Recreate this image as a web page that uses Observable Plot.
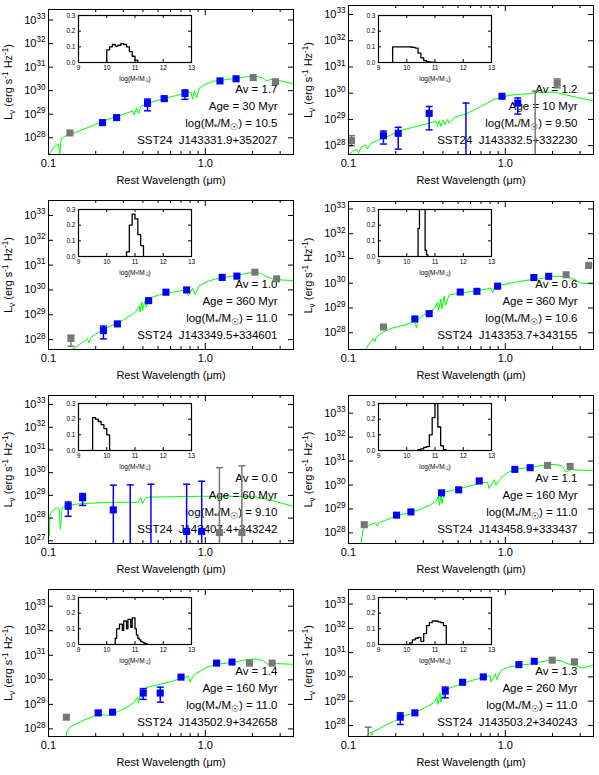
<!DOCTYPE html>
<html>
<head>
<meta charset="utf-8">
<script src="https://cdn.jsdelivr.net/npm/d3@7"></script>
<script src="https://cdn.jsdelivr.net/npm/@observablehq/plot@0.6"></script>
<style>
  html, body { margin: 0; padding: 0; background: white; }
  #fig { position: relative; width: 599px; height: 775px; background: white; overflow: hidden; }
  .cell { position: absolute; }
</style>
</head>
<body>
<div id="fig"></div>
<script>
// ---------------- DATA ----------------
const xRange = [0.1, 3.65];
const xMajorTicks = [0.1, 1];
const xMinorTicks = [0.2, 0.3, 0.4, 0.5, 0.6, 0.7, 0.8, 0.9, 2, 3];
const yDecades = [1e27, 1e28, 1e29, 1e30, 1e31, 1e32, 1e33];
const histXTicks = [9, 10, 11, 12, 13];
const histYTicks = [0, 0.1, 0.2, 0.3];
const histXRange = [9, 13];
const histYRange = [0, 0.3];

// Panel 1
const p1YRange = [1.95e27, 2.8e33];
const p1Blue = [[0.221,4.4e28],[0.272,7.2e28],[0.428,2.9e29],[0.547,4.6e29],[0.742,7.6e29],[1.24,2.6e30],[1.57,3.2e30]];
const p1BlueErr = [[0.428,1.4e29,4.4e29],[0.547,3.8e29,5.3e29],[0.742,4.3e29,1.07e30]];
const p1Gray = [[0.137,1.6e28],[2.02,3.6e30],[2.80,2.4e30]];
const p1GrayErr = [];
const p1Model = [[0.101,2.0e27],[0.1087,4.2e27],[0.1158,5.4e27],[0.118,2.0e27],[0.1205,9.3e27],[0.129,1.22e28],[0.1494,1.7e28],[0.173,2.5e28],[0.2005,3.8e28],[0.232,5.6e28],[0.269,7.8e28],[0.312,1.08e29],[0.344,1.4e29],[0.352,9.2e28],[0.3645,1.82e29],[0.375,1.07e29],[0.388,2.2e29],[0.461,3.4e29],[0.534,4.4e29],[0.618,5.7e29],[0.717,7.2e29],[0.81,8.7e29],[0.83,4.2e29],[0.851,1.0e30],[0.88,5.1e29],[0.915,1.29e30],[1.01,1.9e30],[1.11,2.5e30],[1.29,2.8e30],[1.49,3.2e30],[1.82,3.9e30],[2.11,4.1e30],[2.32,3.5e30],[2.44,2.6e30],[2.62,3.0e30],[3.12,2.5e30],[3.6,2.0e30]];
const p1HistBins = [10.0,10.1,10.2,10.3,10.4,10.5,10.6,10.7,10.8,10.9,11.0];
const p1HistFrac = [0.08,0.10,0.115,0.105,0.11,0.12,0.115,0.10,0.07,0.04,0.015];
const p1Text = ["Av = 1.7", "Age = 30 Myr", "log(M_{*}/M_{☉}) = 10.5", "SST24  J143331.9+352027"];

// Panel 2
const p2YRange = [4.6e27, 2.2e33];
const p2Blue = [[0.167,2.4e28],[0.2075,2.95e28],[0.327,1.7e29],[0.953,7.6e29],[1.2,4.2e29]];
const p2BlueErr = [[0.167,1.15e28,3.6e28],[0.2075,7.4e27,5.0e28],[0.327,4.0e28,3.1e29],[0.561,1e25,4.2e29],[1.2,1.6e29,6.6e29]];
const p2Gray = [[0.1045,1.55e28],[2.14,2.4e30]];
const p2GrayErr = [[0.1045,1.0e28,2.4e28],[1.55,1e25,1.2e30],[2.14,1.6e30,3.5e30]];
const p2Model = [[0.101,4.6e27],[0.106,6.0e27],[0.1125,7.4e27],[0.1158,5.1e27],[0.12,8.7e27],[0.129,1.07e28],[0.132,7.4e27],[0.139,1.23e28],[0.157,1.66e28],[0.182,2.4e28],[0.21,3.6e28],[0.256,5.0e28],[0.312,6.7e28],[0.361,8.5e28],[0.37,5.4e28],[0.379,9.0e28],[0.388,5.4e28],[0.402,9.5e28],[0.412,6.3e28],[0.428,1.0e29],[0.4385,7.1e28],[0.473,1.2e29],[0.561,1.6e29],[0.682,2.9e29],[0.83,5.5e29],[0.96,7.4e29],[1.11,8.5e29],[1.42,9.6e29],[1.73,1.1e30],[2.0,1.1e30],[2.32,9.3e29],[2.83,6.9e29],[3.6,5.2e29]];
const p2HistBins = [9.5,9.6,9.7,9.8,9.9,10.0,10.1,10.2,10.3,10.4,10.5,10.6,10.7,10.8,10.9];
const p2HistFrac = [0.10,0.10,0.10,0.10,0.10,0.10,0.099,0.097,0.092,0.06,0.03,0.012,0.005,0.003,0.001];
const p2Text = ["Av = 1.2", "Age = 10 Myr", "log(M_{*}/M_{☉}) = 9.50", "SST24  J143332.5+332230"];

// Panel 3
const p3YRange = [4.0e27, 4.0e33];
const p3Blue = [[0.224,2.3e28],[0.275,4.3e28],[0.435,3.7e29],[0.561,8.1e29],[0.76,1.0e30],[1.28,3.2e30],[1.59,3.6e30]];
const p3BlueErr = [[0.224,1.07e28,3.5e28]];
const p3Gray = [[0.139,1.12e28],[2.07,5.2e30],[2.85,2.8e30]];
const p3GrayErr = [[0.139,5.4e27,1.5e28]];
const p3Model = [[0.141,4.0e27],[0.157,6.2e27],[0.177,1.07e28],[0.182,7.4e27],[0.186,1.2e28],[0.2005,1.7e28],[0.232,2.9e28],[0.275,4.7e28],[0.279,3.2e28],[0.283,4.9e28],[0.312,7.2e28],[0.344,1.07e29],[0.361,1.35e29],[0.379,2.3e29],[0.383,1.26e29],[0.394,3.4e29],[0.398,1.5e29],[0.414,4.1e29],[0.42,2.0e29],[0.439,4.7e29],[0.508,6.3e29],[0.618,8.1e29],[0.753,1.0e30],[0.78,5.9e29],[0.83,1.17e30],[0.86,6.7e29],[0.915,1.5e30],[1.035,2.2e30],[1.17,2.8e30],[1.49,3.6e30],[1.82,4.6e30],[2.05,5.2e30],[2.27,4.6e30],[2.44,3.5e30],[2.69,2.8e30],[3.12,2.5e30],[3.6,2.4e30]];
const p3HistBins = [10.7,10.8,10.9,11.0,11.1,11.2];
const p3HistFrac = [0.03,0.2,0.27,0.24,0.14,0.07];
const p3Text = ["Av = 1.0", "Age = 360 Myr", "log(M_{*}/M_{☉}) = 11.0", "SST24  J143349.5+334601"];

// Panel 4
const p4YRange = [2.1e27, 2.0e33];
const p4Blue = [[0.265,3.6e28],[0.327,5.9e28],[0.516,4.4e29],[0.659,4.7e29],[0.893,7.6e29],[1.52,1.7e30],[1.89,1.9e30]];
const p4BlueErr = [];
const p4Gray = [[0.167,1.7e28],[2.44,2.2e30],[3.4,5.2e30]];
const p4GrayErr = [];
const p4Model = [[0.129,2.2e27],[0.137,4.0e27],[0.144,5.8e27],[0.147,4.2e27],[0.15,6.5e27],[0.157,8.3e27],[0.169,1.12e28],[0.191,1.55e28],[0.232,2.1e28],[0.263,2.9e28],[0.272,1.55e28],[0.276,3.2e28],[0.283,3.9e28],[0.319,6.5e28],[0.352,9.3e28],[0.37,1.7e29],[0.375,8.0e28],[0.388,2.3e29],[0.394,9.3e28],[0.408,3.0e29],[0.414,1.26e29],[0.439,3.4e29],[0.534,4.1e29],[0.682,5.1e29],[0.81,6.3e29],[0.83,4.1e29],[0.85,6.8e29],[0.915,8.1e29],[1.11,1.05e30],[1.36,1.3e30],[1.65,1.5e30],[2.0,1.9e30],[2.32,1.9e30],[2.56,1.7e30],[2.83,1.3e30],[3.04,1.0e30],[3.6,9.5e29]];
const p4HistBins = [10.40,10.45,10.50,10.55,10.60,10.65,10.70];
const p4HistFrac = [0.18,0.5,0.6,0.55,0.45,0.04,0.01];
const p4Text = ["Av = 0.6", "Age = 360 Myr", "log(M_{*}/M_{☉}) = 10.6", "SST24  J143353.7+343155"];

// Panel 5
const p5YRange = [7.6e26, 2.5e33];
const p5Blue = [[0.1335,3.3e28],[0.165,7.9e28],[0.259,2.3e28],[0.76,2.6e27],[0.948,2.6e27]];
const p5BlueErr = [[0.1335,1.2e28,5.1e28],[0.165,3.6e28,1.2e29],[0.259,1e25,2.8e29],[0.332,1e25,2.9e29],[0.45,1e25,3.1e29],[0.76,1e25,3.1e29],[0.948,1e25,4.2e29]];
const p5Gray = [[1.23,2.3e27],[1.71,2.3e27]];
const p5GrayErr = [[1.23,1e25,1.66e30],[1.71,1e25,2.0e30]];
const p5Model = [[0.1,1.1e28],[0.101,1.6e27],[0.1025,1.5e28],[0.107,2.2e28],[0.1125,2.8e28],[0.117,2.5e28],[0.119,3.2e27],[0.122,2.9e28],[0.129,3.4e28],[0.149,4.1e28],[0.182,4.5e28],[0.232,4.8e28],[0.297,5.0e28],[0.37,4.8e28],[0.388,7.9e28],[0.398,4.4e28],[0.418,8.3e28],[0.508,8.5e28],[0.682,8.8e28],[0.915,9.1e28],[1.23,9.1e28],[1.65,9.1e28],[2.1,8.5e28],[2.56,6.5e28],[3.12,4.4e28],[3.6,3.3e28]];
const p5HistBins = [9.5,9.6,9.7,9.8,9.9,10.0];
const p5HistFrac = [0.21,0.20,0.185,0.165,0.14,0.10];
const p5Text = ["Av = 0.0", "Age = 60 Myr", "log(M_{*}/M_{☉}) = 9.10", "SST24  J143407.4+343242"];

// Panel 6
const p6YRange = [3.6e27, 5.5e33];
const p6Blue = [[0.2025,5.5e28],[0.25,7.5e28],[0.392,4.7e29],[0.504,6.3e29],[0.682,1.48e30],[1.15,4.5e30],[1.44,5.3e30]];
const p6BlueErr = [];
const p6Gray = [[0.126,2.2e28],[1.86,6.6e30],[2.59,6.0e30]];
const p6GrayErr = [];
const p6Model = [[0.1205,3.4e27],[0.1217,6.8e27],[0.124,1.38e28],[0.129,1.9e28],[0.149,2.6e28],[0.153,1.9e28],[0.156,2.7e28],[0.173,3.4e28],[0.2005,5.1e28],[0.244,7.1e28],[0.283,9.3e28],[0.327,1.4e29],[0.361,2.1e29],[0.375,3.4e29],[0.379,1.4e29],[0.39,4.4e29],[0.394,1.66e29],[0.41,5.1e29],[0.461,6.0e29],[0.561,8.3e29],[0.682,1.15e30],[0.77,1.33e30],[0.787,7.1e29],[0.851,1.66e30],[0.87,9.8e29],[0.96,2.3e30],[1.06,3.6e30],[1.21,4.7e30],[1.49,5.6e30],[1.82,7.1e30],[2.11,7.3e30],[2.32,6.0e30],[2.44,3.5e30],[2.62,4.4e30],[3.12,4.1e30],[3.6,4.1e30]];
const p6HistBins = [10.4,10.5,10.6,10.7,10.8,10.9,11.0,11.1,11.2,11.3];
const p6HistFrac = [0.005,0.01,0.02,0.025,0.1,0.21,0.32,0.15,0.03,0.005];
const p6Text = ["Av = 1.1", "Age = 160 Myr", "log(M_{*}/M_{☉}) = 11.0", "SST24  J143458.9+333437"];

// Panel 7
const p7YRange = [4.9e27, 4.8e33];
const p7Blue = [[0.2075,4.5e28],[0.256,4.8e28],[0.402,2.9e29],[0.516,2.9e29],[0.70,1.29e30],[1.18,4.8e30],[1.48,5.3e30]];
const p7BlueErr = [[0.2075,3.8e28,5.4e28],[0.256,4.0e28,5.7e28],[0.402,1.6e29,4.4e29],[0.516,1.23e29,5.0e29]];
const p7Gray = [[0.130,3.0e28],[1.91,4.8e30],[2.67,4.8e30]];
const p7GrayErr = [];
const p7Model = [[0.129,4.9e27],[0.1315,8.0e27],[0.137,1.17e28],[0.157,1.87e28],[0.182,2.8e28],[0.21,3.9e28],[0.238,3.6e28],[0.269,4.7e28],[0.312,7.2e28],[0.352,1.2e29],[0.37,2.0e29],[0.375,1.12e29],[0.388,3.5e29],[0.394,1.86e29],[0.418,4.8e29],[0.508,6.5e29],[0.618,8.9e29],[0.70,1.15e30],[0.78,1.38e30],[0.797,8.1e29],[0.851,1.66e30],[1.01,3.1e30],[1.17,4.3e30],[1.49,5.1e30],[1.82,6.6e30],[2.11,7.1e30],[2.32,6.2e30],[2.5,4.3e30],[2.83,4.6e30],[3.6,4.3e30]];
const p7HistBins = [10.30,10.35,10.40,10.45,10.50,10.55,10.60,10.65,10.70,10.75,10.80,10.85,10.90,10.95,11.00,11.05,11.10,11.15,11.20,11.25,11.30,11.35,11.40];
const p7HistFrac = [0.04,0.1,0.1,0.13,0.13,0.09,0.15,0.15,0.1,0.16,0.16,0.11,0.17,0.17,0.1,0.06,0.04,0.03,0.02,0.015,0.01,0.005,0.003];
const p7Text = ["Av = 1.4", "Age = 160 Myr", "log(M_{*}/M_{☉}) = 11.0", "SST24  J143502.9+342658"];

// Panel 8
const p8YRange = [3.5e27, 4.0e33];
const p8Blue = [[0.214,2.2e28],[0.265,3.3e28],[0.414,2.6e29],[0.534,6.0e29],[0.724,1.0e30],[1.22,3.2e30],[1.53,4.4e30]];
const p8BlueErr = [[0.214,1.1e28,3.3e28],[0.414,1.38e29,3.8e29]];
const p8Gray = [[1.99,4.9e30],[2.76,4.2e30]];
const p8GrayErr = [[0.1335,1e25,8.5e27]];
const p8Model = [[0.129,3.5e27],[0.139,5.3e27],[0.141,3.9e27],[0.143,5.6e27],[0.157,7.3e27],[0.177,1.1e28],[0.2005,1.6e28],[0.232,2.6e28],[0.269,3.5e28],[0.312,5.7e28],[0.352,8.9e28],[0.366,1.5e29],[0.372,7.4e28],[0.383,2.2e29],[0.388,9.1e28],[0.4,2.6e29],[0.408,1.26e29],[0.428,3.2e29],[0.508,4.9e29],[0.618,7.2e29],[0.717,9.5e29],[0.80,1.12e30],[0.81,6.2e29],[0.865,1.35e30],[0.88,7.8e29],[0.94,1.87e30],[1.06,2.6e30],[1.23,3.0e30],[1.49,3.5e30],[1.82,4.6e30],[2.05,5.1e30],[2.27,4.6e30],[2.56,3.3e30],[2.89,2.75e30],[3.07,2.3e30],[3.6,2.95e30]];
const p8HistBins = [10.1,10.2,10.3,10.4,10.5,10.6,10.7,10.8,10.9,11.0,11.1,11.2,11.3];
const p8HistFrac = [0.01,0.03,0.04,0.045,0.02,0.07,0.12,0.14,0.15,0.15,0.145,0.14,0.12];
const p8Text = ["Av = 1.3", "Age = 260 Myr", "log(M_{*}/M_{☉}) = 11.0", "SST24  J143503.2+340243"];

const panels = [
  {yRange:p1YRange, blue:p1Blue, blueErr:p1BlueErr, gray:p1Gray, grayErr:p1GrayErr, model:p1Model, hb:p1HistBins, hf:p1HistFrac, text:p1Text},
  {yRange:p2YRange, blue:p2Blue, blueErr:p2BlueErr, gray:p2Gray, grayErr:p2GrayErr, model:p2Model, hb:p2HistBins, hf:p2HistFrac, text:p2Text},
  {yRange:p3YRange, blue:p3Blue, blueErr:p3BlueErr, gray:p3Gray, grayErr:p3GrayErr, model:p3Model, hb:p3HistBins, hf:p3HistFrac, text:p3Text},
  {yRange:p4YRange, blue:p4Blue, blueErr:p4BlueErr, gray:p4Gray, grayErr:p4GrayErr, model:p4Model, hb:p4HistBins, hf:p4HistFrac, text:p4Text},
  {yRange:p5YRange, blue:p5Blue, blueErr:p5BlueErr, gray:p5Gray, grayErr:p5GrayErr, model:p5Model, hb:p5HistBins, hf:p5HistFrac, text:p5Text},
  {yRange:p6YRange, blue:p6Blue, blueErr:p6BlueErr, gray:p6Gray, grayErr:p6GrayErr, model:p6Model, hb:p6HistBins, hf:p6HistFrac, text:p6Text},
  {yRange:p7YRange, blue:p7Blue, blueErr:p7BlueErr, gray:p7Gray, grayErr:p7GrayErr, model:p7Model, hb:p7HistBins, hf:p7HistFrac, text:p7Text},
  {yRange:p8YRange, blue:p8Blue, blueErr:p8BlueErr, gray:p8Gray, grayErr:p8GrayErr, model:p8Model, hb:p8HistBins, hf:p8HistFrac, text:p8Text}
];

// ---------------- LAYOUT ----------------
const FONT = "'Liberation Sans', Arial, Helvetica, sans-serif";
const BLUE = "#0000ff", GRAY = "#777777", GREEN = "#00ff00";
const colLeft = [0, 300], colWidth = [300, 299], colMR = [7, 6];
const rowTop = [0, 194, 388, 582], rowH = [194, 194, 194, 193];
const frameTopOff = [9, 5, 6, 7, 7, 7, 7, 7];
const marginBot = [40, 40, 39, 39, 39, 39, 39, 39];
const ML = 48;

const capSymbol = { draw(ctx, size) { const w = Math.sqrt(size / Math.PI); ctx.moveTo(-w, 0); ctx.lineTo(w, 0); } };

function richify(root) {
  root.querySelectorAll("text").forEach(t => {
    const s = t.textContent;
    if (!/[\^_]\{/.test(s)) return;
    const fs = parseFloat(getComputedStyle(t).fontSize) || 10;
    while (t.firstChild) t.removeChild(t.firstChild);
    const re = /([\^_])\{([^}]*)\}/g;
    let last = 0, m, cur = 0;
    const add = (str, shift, small) => {
      if (!str) return;
      const ts = document.createElementNS("http://www.w3.org/2000/svg", "tspan");
      ts.textContent = str;
      const d = shift - cur;
      if (d) ts.setAttribute("dy", d.toFixed(2));
      if (small) ts.setAttribute("font-size", (fs * 0.74).toFixed(2));
      cur = shift;
      t.appendChild(ts);
    };
    while ((m = re.exec(s))) {
      add(s.slice(last, m.index), 0, false);
      add(m[2], m[1] === "^" ? -fs * 0.42 : fs * 0.28, true);
      last = re.lastIndex;
    }
    add(s.slice(last), 0, false);
  });
}

function stepPoints(bins, frac) {
  const w = bins[1] - bins[0];
  const pts = [{x: bins[0], y: 0}];
  bins.forEach((b, i) => pts.push({x: b, y: frac[i]}));
  pts.push({x: bins[bins.length - 1] + w, y: 0});
  return pts;
}

const fig = document.getElementById("fig");

panels.forEach((p, i) => {
  const col = i % 2, row = Math.floor(i / 2);
  const W = colWidth[col], H = rowH[row], MR = colMR[col];
  const MT = frameTopOff[i], MB = marginBot[i];
  const fw = W - ML - MR, fh = H - MT - MB;
  const yTicks = yDecades.filter(v => v >= p.yRange[0] && v <= p.yRange[1]);
  const caps = (err) => err.flatMap(d => [[d[0], d[1]], [d[0], d[2]]]);

  const marks = [
    Plot.line(p.model, {x: d => d[0], y: d => d[1], stroke: GREEN, strokeWidth: 1, clip: true}),
    ...p.text.map((s, k) => Plot.text([s], {text: d => d, frameAnchor: "bottom-right", textAnchor: "end",
        dx: -16, dy: -11 - 17 * (p.text.length - 1 - k), fontSize: 11.5, fill: "black"})),
    Plot.ruleX(p.grayErr, {x: d => d[0], y1: d => d[1], y2: d => d[2], stroke: GRAY, strokeWidth: 1.5, clip: true}),
    Plot.dot(caps(p.grayErr), {x: d => d[0], y: d => d[1], symbol: capSymbol, r: 3.5, stroke: GRAY, strokeWidth: 1.5, fill: "none", clip: true}),
    Plot.ruleX(p.blueErr, {x: d => d[0], y1: d => d[1], y2: d => d[2], stroke: BLUE, strokeWidth: 1.5, clip: true}),
    Plot.dot(caps(p.blueErr), {x: d => d[0], y: d => d[1], symbol: capSymbol, r: 3.5, stroke: BLUE, strokeWidth: 1.5, fill: "none", clip: true}),
    Plot.dot(p.gray, {x: d => d[0], y: d => d[1], symbol: "square", r: 4, fill: GRAY, stroke: "none", clip: true}),
    Plot.dot(p.blue, {x: d => d[0], y: d => d[1], symbol: "square", r: 4, fill: BLUE, stroke: "none", clip: true}),
    // inward ticks
    Plot.tickX(xMajorTicks, {x: d => d, insetTop: fh - 6, stroke: "black"}),
    Plot.tickX(xMajorTicks, {x: d => d, insetBottom: fh - 6, stroke: "black"}),
    Plot.tickX(xMinorTicks, {x: d => d, insetTop: fh - 3, stroke: "black"}),
    Plot.tickX(xMinorTicks, {x: d => d, insetBottom: fh - 3, stroke: "black"}),
    Plot.tickY(yTicks, {y: d => d, insetRight: fw - 5, stroke: "black"}),
    Plot.tickY(yTicks, {y: d => d, insetLeft: fw - 5, stroke: "black"}),
    Plot.frame({stroke: "black", strokeWidth: 1}),
    Plot.axisX({ticks: xMajorTicks, tickFormat: d => d.toFixed(1), tickSize: 0, tickPadding: 5, fontSize: 11,
      label: "Rest Wavelength (μm)", labelAnchor: "center", labelOffset: 29, labelArrow: "none"}),
    Plot.axisY({ticks: yTicks, tickFormat: d => "10^{" + Math.round(Math.log10(d)) + "}", tickSize: 0, tickPadding: 3, fontSize: 11,
      label: "L_{ν} (erg s^{-1} Hz^{-1})", labelAnchor: "center", labelOffset: 44, labelArrow: "none"})
  ];

  const main = Plot.plot({
    width: W, height: H, marginLeft: ML, marginRight: MR, marginTop: MT, marginBottom: MB,
    style: {fontFamily: FONT, fontSize: "11px", background: "transparent", color: "black", overflow: "visible"},
    x: {type: "log", domain: xRange},
    y: {type: "log", domain: p.yRange},
    marks
  });
  const cell = document.createElement("div");
  cell.className = "cell";
  cell.style.left = colLeft[col] + "px";
  cell.style.top = rowTop[row] + "px";
  cell.appendChild(main);
  fig.appendChild(cell);
  richify(main);

  // inset histogram
  const IW = 113, IH = 47, IL = 18, IR = 4, IT = 2, IB = 20;
  const inset = Plot.plot({
    width: IW + IL + IR, height: IH + IT + IB, marginLeft: IL, marginRight: IR, marginTop: IT, marginBottom: IB,
    style: {fontFamily: FONT, fontSize: "6.5px", background: "transparent", color: "black", overflow: "visible"},
    x: {domain: histXRange},
    y: {domain: histYRange},
    marks: [
      Plot.frame({fill: "white", stroke: "none"}),
      Plot.line(stepPoints(p.hb, p.hf), {x: "x", y: "y", curve: "step-after", stroke: "black", strokeWidth: 1.3, clip: true}),
      Plot.tickX(histXTicks.slice(1, -1), {x: d => d, insetTop: IH - 3, stroke: "black"}),
      Plot.tickX(histXTicks.slice(1, -1), {x: d => d, insetBottom: IH - 3, stroke: "black"}),
      Plot.tickY(histYTicks.slice(1, -1), {y: d => d, insetRight: IW - 3, stroke: "black"}),
      Plot.tickY(histYTicks.slice(1, -1), {y: d => d, insetLeft: IW - 3, stroke: "black"}),
      Plot.frame({stroke: "black", strokeWidth: 1.2}),
      Plot.axisX({ticks: histXTicks, tickFormat: d => String(d), tickSize: 0, tickPadding: 3, fontSize: 6.5,
        label: "log(M_{*}/M_{☉})", labelAnchor: "center", labelOffset: 18, labelArrow: "none"}),
      Plot.axisY({ticks: histYTicks, tickFormat: d => d.toFixed(1), tickSize: 0, tickPadding: 3, fontSize: 6.5, label: null})
    ]
  });
  const icell = document.createElement("div");
  icell.className = "cell";
  icell.style.left = (colLeft[col] + 78 - IL) + "px";
  icell.style.top = (rowTop[row] + 15 - IT) + "px";
  icell.appendChild(inset);
  fig.appendChild(icell);
  richify(inset);
});
</script>
</body>
</html>
